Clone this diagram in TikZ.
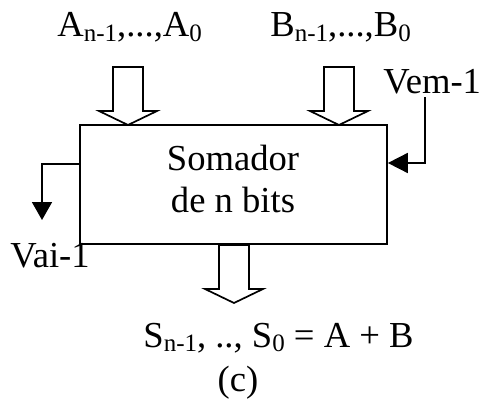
\documentclass[tikz,border=0pt]{standalone}
\usepackage{fontspec}
\setmainfont{Liberation Serif}
\usetikzlibrary{arrows.meta}
\newcommand\mysub[1]{\raisebox{-2.3pt}{\fontsize{12.5}{13}\selectfont #1}}
\begin{document}
\begin{tikzpicture}[x=0.5pt,y=-0.5pt,
  every node/.style={font=\fontsize{18.3}{21.6}\selectfont, inner sep=0pt},
  line/.style={line width=0.85pt},
  blockarrow/.pic={\draw[line] (-15,-58) -- (15,-58) -- (15,-14) -- (29,-14) -- (0,0) -- (-29,-14) -- (-15,-14) -- cycle;},
  tip/.style={-{Triangle[length=10pt,width=10pt]}}]
\useasboundingbox (0,0) rectangle (483,407);
\node[draw, line, minimum width=153.5pt, minimum height=59.5pt] (box) at (233.5,184.5) {};
\node[anchor=base] (som) at (233,170) {Somador};
\node[anchor=base] (bits) at (233,212) {de n bits};
\node[anchor=base west] (alab) at (57,37) {A\mysub{n-1},...,A\mysub{0}};
\node[anchor=base west] (blab) at (270,37) {B\mysub{n-1},...,B\mysub{0}};
\node[anchor=base west] (vem) at (383,93) {Vem-1};
\node[anchor=base west] (vai) at (10,267) {Vai-1};
\node[anchor=base west] (slab) at (143,347) {S\mysub{n-1}, .., S\mysub{0} = A + B};
\node[anchor=base] (cap) at (238,391) {(c)};
% block arrows
\pic at (128,125) {blockarrow};
\pic at (339,125) {blockarrow};
\pic at (234,303) {blockarrow};
% carry in
\coordinate (vemtop) at (425,97);
\draw[line,tip] (vemtop) |- ([yshift=10.75pt]box.east);
% carry out
\coordinate (vaiend) at (42,220);
\draw[line,-{Triangle[length=9pt,width=10pt]}] ([yshift=10.25pt]box.west) -| (vaiend);
\end{tikzpicture}
\end{document}
